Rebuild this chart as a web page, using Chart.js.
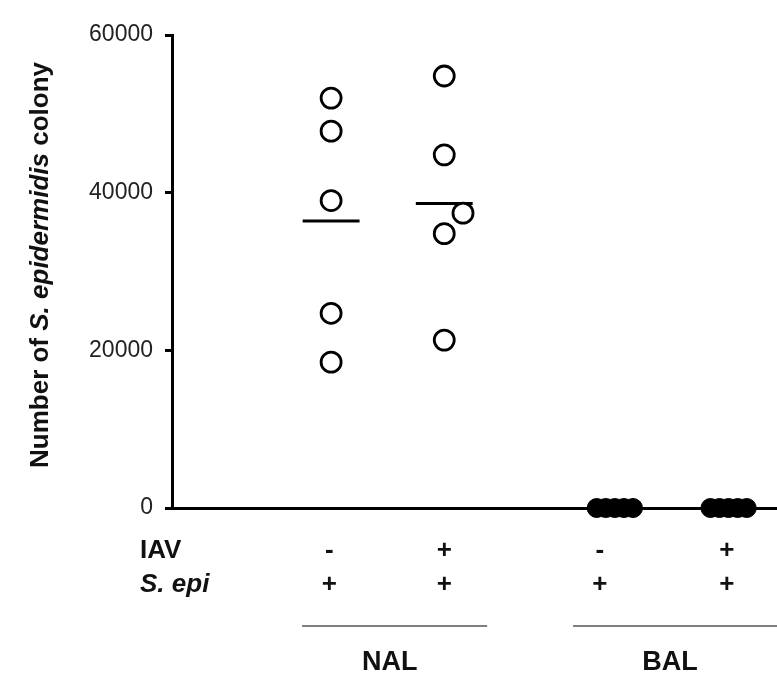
<!DOCTYPE html>
<html>
<head>
<meta charset="utf-8">
<script src="https://cdn.jsdelivr.net/npm/chart.js@4.4.1/dist/chart.umd.min.js"></script>
<style>
    html, body { margin: 0; padding: 0; background: #fff; overflow: hidden; }
    #wrap { width: 777px; height: 677px; }
    canvas { display: block; }
</style>
</head>
<body>
<div id="wrap"><canvas id="colonyChart" width="777" height="677"></canvas></div>
<script>
// Groups and conditions along the x axis
const groupNames = ['NAL', 'BAL'];
const groupSpan = [[2.15, 5.21], [6.63, 10]];
const iavSigns = ['-', '+', '-', '+'];
const sepiSigns = ['+', '+', '+', '+'];
const conditionX = [2.63, 4.5, 7.32, 9.2];
const labelX = [2.6, 4.5, 7.07, 9.17];

// Colony counts per mouse
const nalNeg = [52000, 47800, 39000, 24700, 18500];
const nalPos = [54800, 44800, 34800, 37400, 21300];
const balNeg = [0, 0, 0, 0, 0];
const balPos = [0, 0, 0, 0, 0];

// Horizontal spread of overlapping points
const nalNegJitter = [0, 0, 0, 0, 0];
const nalPosJitter = [0, 0, 0, 0.31, 0];
const balJitter = [-0.3, -0.15, 0, 0.15, 0.3];

const yTicks = [0, 20000, 40000, 60000];

const FONT = 'Arial, "Liberation Sans", sans-serif';

function toPoints(values, x, jitter) {
    return values.map((v, i) => ({ x: x + jitter[i], y: v }));
}

function meanLine(values, x) {
    const m = values.reduce((a, b) => a + b, 0) / values.length;
    return [{ x: x - 0.47, y: m }, { x: x + 0.47, y: m }];
}

const openDot = {
    pointStyle: 'circle',
    pointRadius: 10,
    pointBorderWidth: 2.8,
    pointBorderColor: '#000',
    pointBackgroundColor: '#fff',
    showLine: false,
    order: 0
};
const filledDot = {
    pointStyle: 'circle',
    pointRadius: 9.5,
    pointBorderWidth: 1,
    pointBorderColor: '#000',
    pointBackgroundColor: '#000',
    showLine: false,
    order: 0
};
const meanStyle = {
    showLine: true,
    borderColor: '#000',
    borderWidth: 3,
    pointRadius: 0,
    order: 1
};

// Axis title and the condition table below the plot
const labelsPlugin = {
    id: 'labels',
    afterDraw(chart) {
        const ctx = chart.ctx;
        const xs = chart.scales.x;
        ctx.save();
        ctx.fillStyle = '#111';

        // y title with italic species name
        const parts = [
            ['Number of ', 'bold 26px ' + FONT],
            ['S. epidermidis', 'italic bold 26px ' + FONT],
            [' colony', 'bold 26px ' + FONT]
        ];
        let total = 0;
        parts.forEach(p => { ctx.font = p[1]; total += ctx.measureText(p[0]).width; });
        ctx.translate(41, 265);
        ctx.rotate(-Math.PI / 2);
        ctx.textBaseline = 'middle';
        ctx.textAlign = 'left';
        let pos = -total / 2;
        parts.forEach(p => {
            ctx.font = p[1];
            ctx.fillText(p[0], pos, 0);
            pos += ctx.measureText(p[0]).width;
        });
        ctx.setTransform(1, 0, 0, 1, 0, 0);

        // row headers
        ctx.textBaseline = 'middle';
        ctx.textAlign = 'left';
        ctx.font = 'bold 26px ' + FONT;
        ctx.fillText('IAV', 140, 551);
        ctx.font = 'italic bold 26px ' + FONT;
        ctx.fillText('S. epi', 140, 585);

        // +/- signs
        ctx.textAlign = 'center';
        ctx.font = 'bold 26px ' + FONT;
        labelX.forEach((x, i) => {
            const px = xs.getPixelForValue(x);
            ctx.fillText(iavSigns[i], px, 551);
            ctx.fillText(sepiSigns[i], px, 585);
        });

        // group brackets
        ctx.strokeStyle = '#555';
        ctx.lineWidth = 1.5;
        ctx.font = 'bold 27px ' + FONT;
        groupNames.forEach((g, i) => {
            const a = xs.getPixelForValue(groupSpan[i][0]);
            const b = xs.getPixelForValue(groupSpan[i][1]);
            ctx.beginPath();
            ctx.moveTo(a, 626);
            ctx.lineTo(b, 626);
            ctx.stroke();
            ctx.fillText(g, (a + b) / 2 - 5, 663);
        });
        ctx.restore();
    }
};

new Chart(document.getElementById('colonyChart'), {
    type: 'scatter',
    data: {
        datasets: [
            { label: 'NAL IAV-', data: toPoints(nalNeg, conditionX[0], nalNegJitter), ...openDot },
            { label: 'NAL IAV+', data: toPoints(nalPos, conditionX[1], nalPosJitter), ...openDot },
            { label: 'BAL IAV-', data: toPoints(balNeg, conditionX[2], balJitter), ...filledDot },
            { label: 'BAL IAV+', data: toPoints(balPos, conditionX[3], balJitter), ...filledDot },
            { label: 'mean NAL IAV-', data: meanLine(nalNeg, conditionX[0]), ...meanStyle },
            { label: 'mean NAL IAV+', data: meanLine(nalPos, conditionX[1]), ...meanStyle }
        ]
    },
    options: {
        responsive: false,
        animation: false,
        clip: false,
        layout: { autoPadding: false, padding: { top: 35, bottom: 169, left: 0, right: 0 } },
        plugins: {
            legend: { display: false },
            tooltip: { enabled: false }
        },
        scales: {
            x: {
                type: 'linear',
                min: 0,
                max: 10,
                grid: { display: false, drawTicks: false },
                border: { display: true, color: '#000', width: 3 },
                ticks: { display: false },
                afterFit(scale) { scale.height = 0; }
            },
            y: {
                min: 0,
                max: 60000,
                afterBuildTicks(scale) { scale.ticks = yTicks.map(v => ({ value: v })); },
                ticks: {
                    color: '#222',
                    padding: 12,
                    font: { family: FONT, size: 23 },
                    callback: v => String(v)
                },
                grid: {
                    drawOnChartArea: false,
                    drawTicks: true,
                    tickLength: 7,
                    color: '#000',
                    lineWidth: 3
                },
                border: { display: true, color: '#000', width: 3 },
                afterFit(scale) { scale.width = 172; }
            }
        }
    },
    plugins: [labelsPlugin]
});
</script>
</body>
</html>
